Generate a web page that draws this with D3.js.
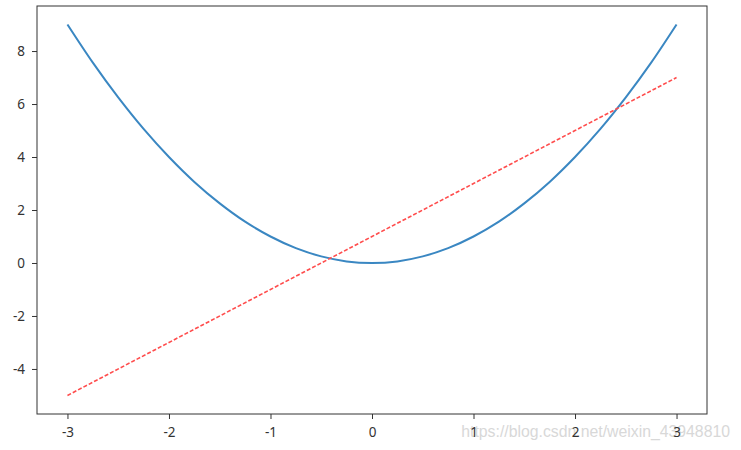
<!DOCTYPE html>
<html>
<head>
<meta charset="utf-8">
<script src="https://cdn.jsdelivr.net/npm/d3@7"></script>
<style>
  html, body { margin: 0; padding: 0; background: #fff; }
  svg { display: block; }
</style>
</head>
<body>
<svg id="chart" width="741" height="450"></svg>
<script>
// Curve samples (blue solid line)
const curveX = [-3, -2.75, -2.5, -2.25, -2, -1.75, -1.5, -1.25, -1, -0.75, -0.5, -0.25, 0,
                0.25, 0.5, 0.75, 1, 1.25, 1.5, 1.75, 2, 2.25, 2.5, 2.75, 3];
const curveY = [9, 7.56, 6.25, 5.06, 4, 3.06, 2.25, 1.56, 1, 0.56, 0.25, 0.06, 0,
                0.06, 0.25, 0.56, 1, 1.56, 2.25, 3.06, 4, 5.06, 6.25, 7.56, 9];
// Straight red dashed line
const lineX = [-3, -2, -1, 0, 1, 2, 3];
const lineY = [-5, -3, -1, 1, 3, 5, 7];
// Ticks
const xTicks = [-3, -2, -1, 0, 1, 2, 3];
const yTicks = [-4, -2, 0, 2, 4, 6, 8];
const watermark = "https://blog.csdn.net/weixin_43948810";

const svg = d3.select("#chart");
const mLeft = 37, mRight = 707, mTop = 6, mBottom = 414;

const x = d3.scaleLinear().domain([-3.3, 3.3]).range([mLeft, mRight]);
const y = d3.scaleLinear().domain([-5.7, 9.7]).range([mBottom, mTop]);

const fmt = d => String(d).replace("\u2212", "-");

// Watermark (drawn first, behind the tick labels)
svg.append("text")
  .attr("x", 730).attr("y", 437)
  .attr("text-anchor", "end")
  .attr("fill", "#d8d8d8")
  .style("font-family", "'Liberation Sans', Arial, sans-serif")
  .style("font-size", "15.8px")
  .text(watermark);

// Axes
const xAxis = d3.axisBottom(x).tickValues(xTicks).tickSize(5).tickPadding(8).tickFormat(fmt);
const yAxis = d3.axisLeft(y).tickValues(yTicks).tickSize(5).tickPadding(7).tickFormat(fmt);

const gx = svg.append("g").attr("transform", `translate(0,${mBottom})`).call(xAxis);
const gy = svg.append("g").attr("transform", `translate(${mLeft},0)`).call(yAxis);
[gx, gy].forEach(g => {
  g.select(".domain").remove();
  g.selectAll("line").attr("stroke", "#333").attr("stroke-width", 1);
  g.selectAll("text").attr("fill", "#333")
    .style("font-family", "'Noto Sans', sans-serif").style("font-size", "13.5px");
});

// Data lines
const curveData = curveX.map((d, i) => [d, curveY[i]]);
const lineData = lineX.map((d, i) => [d, lineY[i]]);

svg.append("path")
  .datum(curveData)
  .attr("fill", "none")
  .attr("stroke", "#3a87c2")
  .attr("stroke-width", 2)
  .attr("d", d3.line().x(d => x(d[0])).y(d => y(d[1])).curve(d3.curveCatmullRom.alpha(0.5)));

svg.append("path")
  .datum(lineData)
  .attr("fill", "none")
  .attr("stroke", "#ff4d4d")
  .attr("stroke-width", 1.6)
  .attr("stroke-dasharray", "4,2")
  .attr("d", d3.line().x(d => x(d[0])).y(d => y(d[1])));

// Frame
svg.append("rect")
  .attr("x", mLeft).attr("y", mTop)
  .attr("width", mRight - mLeft).attr("height", mBottom - mTop)
  .attr("fill", "none").attr("stroke", "#333").attr("stroke-width", 1);
</script>
</body>
</html>
